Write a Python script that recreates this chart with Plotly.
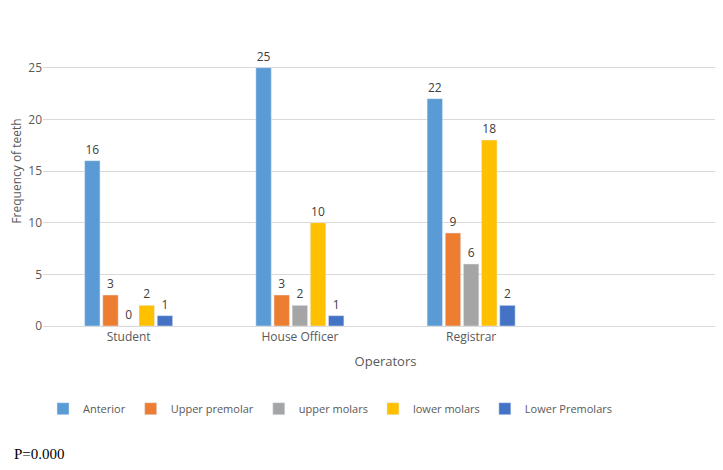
import plotly.graph_objects as go

categories = ["Student", "House Officer", "Registrar", " "]
series_names = ["Anterior", "Upper premolar", "upper molars", "lower molars", "Lower Premolars"]
anterior = [16, 25, 22, None]
upper_premolar = [3, 3, 9, None]
upper_molars = [0, 2, 6, None]
lower_molars = [2, 10, 18, None]
lower_premolars = [1, 1, 2, None]
colors = ["#5B9BD5", "#ED7D31", "#A5A5A5", "#FFC000", "#4472C4"]

fig = go.Figure()
for name, vals, c in zip(series_names, [anterior, upper_premolar, upper_molars, lower_molars, lower_premolars], colors):
    fig.add_bar(x=categories, y=vals, name=name, marker_color=c,
                text=[("" if v is None else str(v)) for v in vals], textposition="outside",
                textfont=dict(size=12, color="#404040"), cliponaxis=False)

fig.update_layout(
    width=723, height=470, paper_bgcolor="white", plot_bgcolor="white",
    font=dict(family="Open Sans, DejaVu Sans, sans-serif", size=12, color="#595959"),
    margin=dict(l=35, r=3, t=8, b=152),
    barmode="group", bargap=0.47, bargroupgap=0.15,
    legend=dict(orientation="h", x=0.0, y=-0.22, xanchor="left", yanchor="top",
                font=dict(size=11, color="#595959"), traceorder="normal",
                itemwidth=30),
    xaxis=dict(title=dict(text="Operators", font=dict(size=13), standoff=12),
               showline=True, linecolor="#D9D9D9", ticks="", tickfont=dict(size=12)),
    yaxis=dict(title=dict(text="Frequency of teeth", font=dict(size=12), standoff=8),
               range=[0, 30], dtick=5, showgrid=True, gridcolor="#D9D9D9",
               zeroline=False, tickfont=dict(size=12)),
    annotations=[dict(text="P=0.000", xref="paper", yref="paper", x=-0.045, y=-0.38,
                      xanchor="left", yanchor="top", showarrow=False,
                      font=dict(family="Liberation Serif, serif", size=15, color="black"))],
)
fig.write_html("out.html")
